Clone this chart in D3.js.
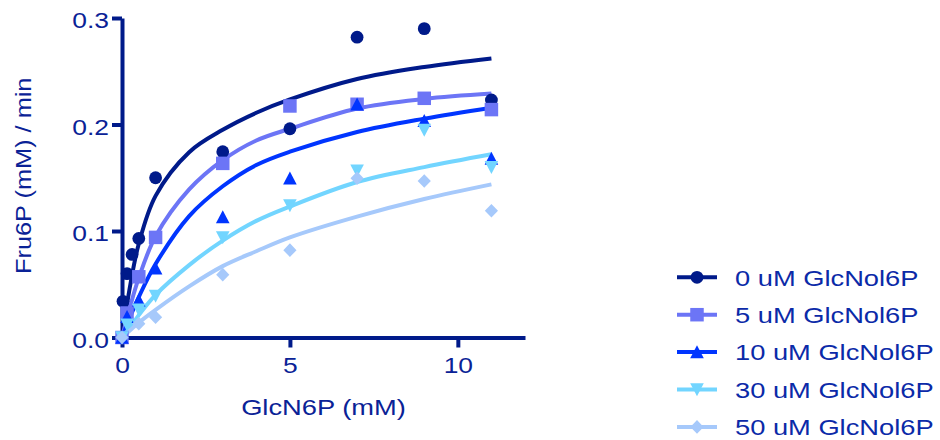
<!DOCTYPE html>
<html><head><meta charset="utf-8">
<script src="https://cdn.jsdelivr.net/npm/d3@7"></script>
<style>
body{margin:0;background:#fff}
svg{display:block}
text{font-family:"Liberation Sans",Arial,Helvetica,sans-serif}
</style>
</head><body>
<svg id="c" width="940" height="440"></svg>
<script>
// ---- data ----
const seriesNames = ["0 uM GlcNol6P","5 uM GlcNol6P","10 uM GlcNol6P","30 uM GlcNol6P","50 uM GlcNol6P"];
const xValues = [0, 0.03, 0.15, 0.3, 0.5, 1, 3, 5, 7, 9, 11];
const y0uM  = [0, 0.034, 0.060, 0.078, 0.093, 0.150, 0.1745, 0.196, 0.282, 0.290, 0.223];
const y5uM  = [0, null, 0.023, null, 0.057, 0.094, 0.1635, 0.2174, 0.219, 0.2246, 0.214];
const y10uM = [0, null, 0.0195, null, 0.035, 0.065, 0.113, 0.1495, 0.219, 0.2035, 0.168];
const y30uM = [0, null, 0.012, null, 0.026, 0.039, 0.094, 0.124, 0.1566, 0.1948, 0.160];
const y50uM = [0, null, null, null, 0.013, 0.019, 0.059, 0.082, 0.1495, 0.147, 0.119];

// fitted curves at these x positions
const curveX   = [0, 0.25, 0.5, 1, 2, 3, 4, 5, 7, 9, 11];
const fit0uM   = [0, 0.050, 0.088, 0.133, 0.174, 0.195, 0.211, 0.2235, 0.2427, 0.254, 0.262];
const fit5uM   = [0, 0.030, 0.056, 0.095, 0.139, 0.1665, 0.185, 0.196, 0.215, 0.224, 0.229];
const fit10uM  = [0, 0.020, 0.038, 0.069, 0.114, 0.142, 0.162, 0.1745, 0.193, 0.2055, 0.2158];
const fit30uM  = [0, 0.010, 0.021, 0.040, 0.068, 0.091, 0.1095, 0.123, 0.146, 0.160, 0.172];
const fit50uM  = [0, 0.007, 0.014, 0.026, 0.048, 0.067, 0.081, 0.094, 0.1135, 0.130, 0.1438];

const xTicks = [0, 5, 10];
const yTicks = [0, 0.1, 0.2, 0.3];
const xTitle = "GlcN6P (mM)";
const yTitle = "Fru6P (mM) / min";

// ---- styles ----
const colors = ["#001a8a", "#6c75f6", "#0035ff", "#72d5ff", "#a6c9fb"];
const shapes = ["circle", "square", "triangle", "triangleDown", "diamond"];
const axisColor = "#001a8a";
const labelColor = "#0a2296";
const legendColor = "#0b2aa8";

const ys = [y0uM, y5uM, y10uM, y30uM, y50uM];
const fits = [fit0uM, fit5uM, fit10uM, fit30uM, fit50uM];

const svg = d3.select("#c");
const x = d3.scaleLinear().domain([0, 12]).range([122, 525]);
const y = d3.scaleLinear().domain([0, 0.3]).range([337.5, 18]);

function stretch(sel, f) {
  sel.each(function () {
    const len = this.getComputedTextLength();
    d3.select(this).attr("textLength", len * f).attr("lengthAdjust", "spacingAndGlyphs");
  });
}

function shapePath(type) {
  switch (type) {
    case "circle": return d3.symbol(d3.symbolCircle, Math.PI * 6.4 * 6.4)();
    case "square": return d3.symbol(d3.symbolSquare, 13.5 * 13.5)();
    case "triangle": return "M0,-6.8L6.8,6.2L-6.8,6.2Z";
    case "triangleDown": return "M0,6.8L6.8,-6.2L-6.8,-6.2Z";
    case "diamond": return "M0,-6.8L6.6,0L0,6.8L-6.6,0Z";
  }
}

// axes
const gx = svg.append("g").attr("transform", `translate(0,${y(0)})`)
  .call(d3.axisBottom(x).tickValues(xTicks).tickSize(10).tickSizeOuter(0).tickPadding(10).tickFormat(d3.format("d")));
const gy = svg.append("g").attr("transform", `translate(${x(0)},0)`)
  .call(d3.axisLeft(y).tickValues(yTicks).tickSize(10).tickSizeOuter(0).tickPadding(3).tickFormat(d3.format(".1f")));
[gx, gy].forEach(g => {
  g.select(".domain").attr("stroke", axisColor).attr("stroke-width", 4);
  g.selectAll(".tick line").attr("stroke", axisColor).attr("stroke-width", 4);
  g.selectAll(".tick text").attr("fill", labelColor).style("font-size", "22px");
});
gy.selectAll(".tick text").attr("dy", "0.45em");
stretch(gx.selectAll(".tick text"), 1.2);
stretch(gy.selectAll(".tick text"), 1.2);

// titles
const xt = svg.append("text").attr("x", (x(0) + x(12)) / 2).attr("y", 415)
  .attr("text-anchor", "middle").attr("fill", labelColor).style("font-size", "22px").text(xTitle);
stretch(xt, 1.24);
const yt = svg.append("text").attr("transform", `translate(31,${(y(0) + y(0.3)) / 2 - 2}) rotate(-90)`)
  .attr("text-anchor", "middle").attr("fill", labelColor).style("font-size", "22px").text(yTitle);
stretch(yt, 1.15);

// curves
const line = d3.line().x(d => x(d[0])).y(d => y(d[1])).curve(d3.curveCatmullRom.alpha(0.5));
fits.forEach((f, i) => {
  svg.append("path").datum(curveX.map((cx, j) => [cx, f[j]]))
    .attr("d", line).attr("fill", "none").attr("stroke", colors[i]).attr("stroke-width", 4);
});

// markers
ys.forEach((vals, i) => {
  const pts = xValues.map((xv, j) => [xv, vals[j]]).filter(d => d[1] != null);
  svg.append("g").selectAll("path").data(pts).join("path")
    .attr("transform", d => `translate(${x(d[0])},${y(d[1])})`)
    .attr("d", shapePath(shapes[i])).attr("fill", colors[i]);
});

// legend
const lg = svg.append("g");
seriesNames.forEach((name, i) => {
  const cy = 277.3 + i * 37.4;
  lg.append("line").attr("x1", 677).attr("x2", 717).attr("y1", cy).attr("y2", cy)
    .attr("stroke", colors[i]).attr("stroke-width", 4);
  lg.append("path").attr("transform", `translate(697,${cy})`).attr("d", shapePath(shapes[i])).attr("fill", colors[i]);
  const t = lg.append("text").attr("x", 735).attr("y", cy).attr("dy", "0.38em")
    .attr("fill", legendColor).style("font-size", "22px").text(name);
  stretch(t, 1.24);
});
</script>
</body></html>
